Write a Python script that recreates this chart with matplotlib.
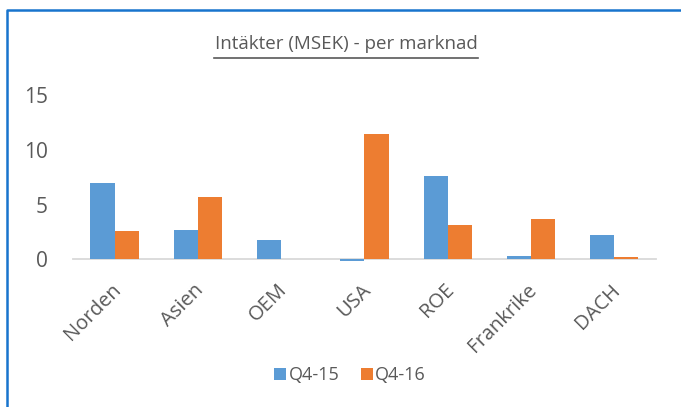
import numpy as np
import matplotlib
matplotlib.use('Agg')
import matplotlib.pyplot as plt
from matplotlib.lines import Line2D
from matplotlib.transforms import ScaledTranslation

plt.rcParams['font.family'] = ['Open Sans', 'DejaVu Sans']

markets = ['Norden', 'Asien', 'OEM', 'USA', 'ROE', 'Frankrike', 'DACH']
q4_15 = [7.0, 2.7, 1.75, -0.15, 7.65, 0.3, 2.2]
q4_16 = [2.6, 5.7, 0.0, 11.4, 3.1, 3.7, 0.2]

blue = '#5B9BD5'
orange = '#ED7D31'
grey = '#595959'

fig = plt.figure(figsize=(6.81, 4.07), dpi=100)
ax = fig.add_axes([0.1072, 0.3629, 0.856, 0.4037])

x = np.arange(len(markets))
w = 0.29
ax.bar(x - w / 2, q4_15, w, color=blue, label='Q4-15', clip_on=False)
ax.bar(x + w / 2, q4_16, w, color=orange, label='Q4-16', clip_on=False)

ax.set_xlim(-0.5, len(markets) - 0.5)
ax.set_ylim(0, 15)
ax.set_yticks([0, 5, 10, 15])
for s in ['top', 'right', 'left']:
    ax.spines[s].set_visible(False)
ax.spines['bottom'].set_color('#D9D9D9')
ax.spines['bottom'].set_linewidth(1.3)
ax.spines['bottom'].set_zorder(0)

ax.set_xticks(x)
ax.set_xticklabels(markets, rotation=45, ha='right', va='center',
                   rotation_mode='anchor', fontsize=14.5, color=grey)
ax.tick_params(axis='x', length=0, pad=20)
ax.tick_params(axis='y', length=0, labelsize=15, labelcolor=grey, pad=18)
shift = ScaledTranslation(3 / 100, 0, fig.dpi_scale_trans)
for lbl in ax.get_xticklabels():
    lbl.set_transform(lbl.get_transform() + shift)

fig.text(0.508, 0.893, 'Intäkter (MSEK) - per marknad', ha='center', va='center',
         fontsize=13.5, color=grey)
# underline under the title
fig.add_artist(Line2D([0.314, 0.702], [0.858, 0.858], color=grey, lw=1.2))

fig.legend(loc='center', bbox_to_anchor=(0.514, 0.078), ncol=2, frameon=False,
           fontsize=13, labelcolor=grey, handlelength=0.65, handleheight=0.65,
           handletextpad=0.15, columnspacing=1.2)

# blue frame of the screenshot
fig.add_artist(Line2D([0.0103, 0.0103, 1.0], [0.0, 0.976, 0.976], color='#1874CD', lw=1.8))

fig.savefig('out.png', dpi=100)
